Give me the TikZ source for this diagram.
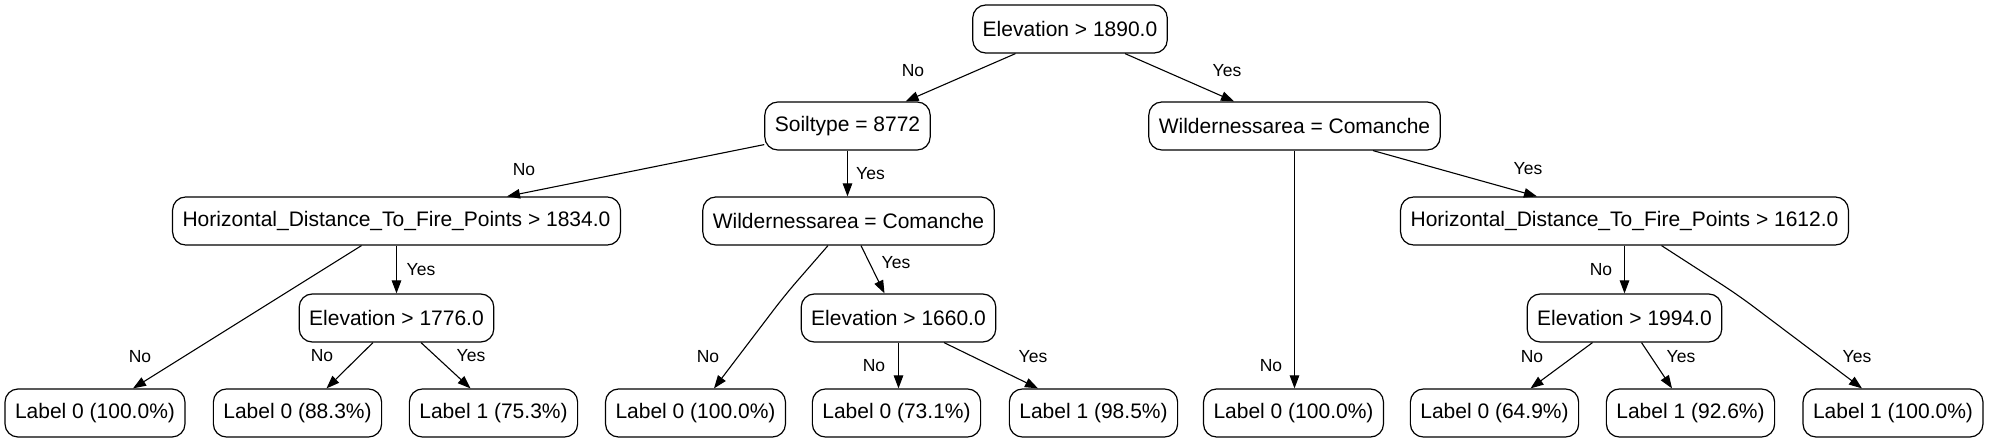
\documentclass[tikz,border=0pt]{standalone}
\usepackage{fontspec}
\setmainfont{Liberation Sans}
\usetikzlibrary{arrows.meta}
\begin{document}
\begin{tikzpicture}[x=1pt,y=-1pt,
  box/.style={draw,rounded corners=13pt,line width=1.2pt,minimum height=48pt,inner xsep=10pt,inner ysep=0pt,font=\fontsize{21}{25}\selectfont},
  edge/.style={line width=1.1pt,-{Triangle[length=13pt,width=9.5pt]},rounded corners=18pt},
  lab/.style={font=\fontsize{17.5}{20}\selectfont,inner sep=0pt}]
\useasboundingbox (0,0) rectangle (1990,443);
% nodes
\node[box] (root) at (1070,29) {Elevation > 1890.0};
\node[box] (soil) at (847.5,126) {Soiltype = 8772};
\node[box] (wildR) at (1294.5,126) {Wildernessarea = Comanche};
\node[box] (h1834) at (396.5,221) {Horizontal\_Distance\_To\_Fire\_Points > 1834.0};
\node[box] (wildL) at (848.5,221) {Wildernessarea = Comanche};
\node[box] (h1612) at (1624.5,221) {Horizontal\_Distance\_To\_Fire\_Points > 1612.0};
\node[box] (e1776) at (396.5,318) {Elevation > 1776.0};
\node[box] (e1660) at (898.5,318) {Elevation > 1660.0};
\node[box] (e1994) at (1624.5,318) {Elevation > 1994.0};
\node[box] (L1) at (95,413) {Label 0 (100.0\%)};
\node[box] (L2) at (297.5,413) {Label 0 (88.3\%)};
\node[box] (L3) at (493.5,413) {Label 1 (75.3\%)};
\node[box] (L4) at (695.5,413) {Label 0 (100.0\%)};
\node[box] (L5) at (896.5,413) {Label 0 (73.1\%)};
\node[box] (L6) at (1093.5,413) {Label 1 (98.5\%)};
\node[box] (L7) at (1293.5,413) {Label 0 (100.0\%)};
\node[box] (L8) at (1494.5,413) {Label 0 (64.9\%)};
\node[box] (L9) at (1690.5,413) {Label 1 (92.6\%)};
\node[box] (L10) at (1893,413) {Label 1 (100.0\%)};
\coordinate (b1) at (785,295);
\coordinate (b2) at (1738,295);
% edges
\draw[edge] ([xshift=-54.5pt]root.south) -- ([xshift=58.1pt]soil.north);
\draw[edge] ([xshift=55pt]root.south) -- ([xshift=-60.5pt]wildR.north);
\draw[edge] ([yshift=6pt]soil.south west) -- ([xshift=110.5pt]h1834.north);
\draw[edge] (soil.south) -- (soil.south |- wildL.north);
\draw[edge] ([xshift=78.5pt]wildR.south) -- ([xshift=-87.5pt]h1612.north);
\draw[edge] (wildR.south) -- (wildR.south |- L7.north);
\draw[edge] ([xshift=-35pt]h1834.south) -- ([xshift=38pt]L1.north);
\draw[edge] (h1834.south) -- (e1776.north);
\draw[edge] ([xshift=-23.5pt]e1776.south) -- ([xshift=29pt]L2.north);
\draw[edge] ([xshift=24.5pt]e1776.south) -- ([xshift=-23pt]L3.north);
\draw[edge] ([xshift=-20.5pt]wildL.south) -- (b1) -- ([xshift=18.5pt]L4.north);
\draw[edge] ([xshift=12.5pt]wildL.south) -- ([xshift=-14pt]e1660.north);
\draw[edge] (e1660.south) -- (e1660.south |- L5.north);
\draw[edge] ([xshift=45.5pt]e1660.south) -- ([xshift=-55.5pt]L6.north);
\draw[edge] (h1612.south) -- (e1994.north);
\draw[edge] ([xshift=37pt]h1612.south) -- (b2) -- ([xshift=-31pt]L10.north);
\draw[edge] ([xshift=-32pt]e1994.south) -- ([xshift=36pt]L8.north);
\draw[edge] ([xshift=17pt]e1994.south) -- ([xshift=-18.5pt]L9.north);
% labels
\node[lab] (t1) at (913,71) {No};
\node[lab] (t2) at (1227,71) {Yes};
\node[lab] (t3) at (524,170) {No};
\node[lab] (t4) at (870.5,174) {Yes};
\node[lab] (t5) at (1528,169) {Yes};
\node[lab] (t6) at (1271,366) {No};
\node[lab] (t7) at (140,357) {No};
\node[lab] (t8) at (421,270) {Yes};
\node[lab] (t9) at (322,356) {No};
\node[lab] (t10) at (471,356) {Yes};
\node[lab] (t11) at (708,357) {No};
\node[lab] (t12) at (896,263) {Yes};
\node[lab] (t13) at (874,366) {No};
\node[lab] (t14) at (1033,357) {Yes};
\node[lab] (t15) at (1601,270) {No};
\node[lab] (t16) at (1857,357) {Yes};
\node[lab] (t17) at (1532,357) {No};
\node[lab] (t18) at (1681,357) {Yes};
\end{tikzpicture}
\end{document}
